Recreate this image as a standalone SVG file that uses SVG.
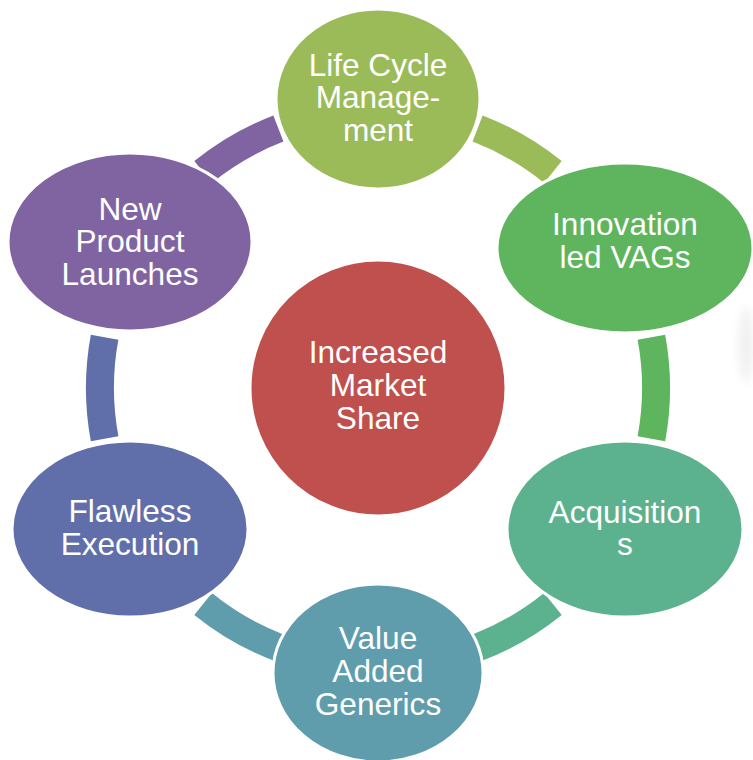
<svg xmlns="http://www.w3.org/2000/svg" width="753" height="760" viewBox="0 0 753 760">
  <defs>
    <filter id="soft" x="-100%" y="-50%" width="300%" height="200%">
      <feGaussianBlur stdDeviation="5"/>
    </filter>
  </defs>
  <style>
    .ring { fill: none; stroke-width: 28; stroke-linecap: butt; }
    .node { stroke: #ffffff; stroke-width: 3; }
    .label { font-family: "Liberation Sans", Arial, sans-serif; font-size: 31.6px; fill: #ffffff; text-anchor: middle; }
  </style>
  <rect width="753" height="760" fill="#ffffff"/>
  <!-- faint smudge at the right margin -->
  <ellipse cx="746" cy="345" rx="7" ry="38" fill="#d9d9d9" opacity="0.4" filter="url(#soft)"/>

  <!-- ring segments between the outer nodes -->
  <g id="connectors">
    <path class="ring" stroke="#9BBB59" d="M477.6 128.5 A278 278 0 0 1 552.9 172.0"/>
    <path class="ring" stroke="#5EB55D" d="M651.4 337.3 A278 278 0 0 1 651.4 438.7"/>
    <path class="ring" stroke="#5CB18F" d="M552.9 604.0 A278 278 0 0 1 477.6 647.5"/>
    <path class="ring" stroke="#5F9DAD" d="M278.4 647.5 A278 278 0 0 1 203.1 604.0"/>
    <path class="ring" stroke="#606FA9" d="M104.6 438.7 A278 278 0 0 1 104.6 337.3"/>
    <path class="ring" stroke="#8064A2" d="M203.1 172.0 A278 278 0 0 1 278.4 128.5"/>
  </g>

  <g id="center">
    <circle class="node" cx="378" cy="388" r="128" fill="#C0504D"/>
    <text class="label"><tspan x="378" y="363">Increased</tspan><tspan x="378" y="396">Market</tspan><tspan x="378" y="429">Share</tspan></text>
  </g>

  <g id="life-cycle">
    <ellipse class="node" cx="378" cy="99" rx="102" ry="90" fill="#9BBB59"/>
    <text class="label"><tspan x="378" y="76">Life Cycle</tspan><tspan x="378" y="108">Manage-</tspan><tspan x="378" y="141">ment</tspan></text>
  </g>

  <g id="innovation">
    <ellipse class="node" cx="625" cy="248" rx="128" ry="85" fill="#5EB55D"/>
    <text class="label"><tspan x="625" y="235">Innovation</tspan><tspan x="625" y="268">led VAGs</tspan></text>
  </g>

  <g id="acquisitions">
    <ellipse class="node" cx="625" cy="529" rx="118" ry="88" fill="#5CB18F"/>
    <text class="label"><tspan x="625" y="523">Acquisition</tspan><tspan x="625" y="555">s</tspan></text>
  </g>

  <g id="value-added">
    <ellipse class="node" cx="378" cy="673" rx="105" ry="89" fill="#5F9DAD"/>
    <text class="label"><tspan x="378" y="649">Value</tspan><tspan x="378" y="682">Added</tspan><tspan x="378" y="715">Generics</tspan></text>
  </g>

  <g id="flawless">
    <ellipse class="node" cx="130" cy="529" rx="118" ry="88" fill="#606FA9"/>
    <text class="label"><tspan x="130" y="522">Flawless</tspan><tspan x="130" y="555">Execution</tspan></text>
  </g>

  <g id="new-product">
    <ellipse class="node" cx="130" cy="242" rx="122" ry="89" fill="#8064A2"/>
    <text class="label"><tspan x="130" y="220">New</tspan><tspan x="130" y="252">Product</tspan><tspan x="130" y="285">Launches</tspan></text>
  </g>
</svg>
